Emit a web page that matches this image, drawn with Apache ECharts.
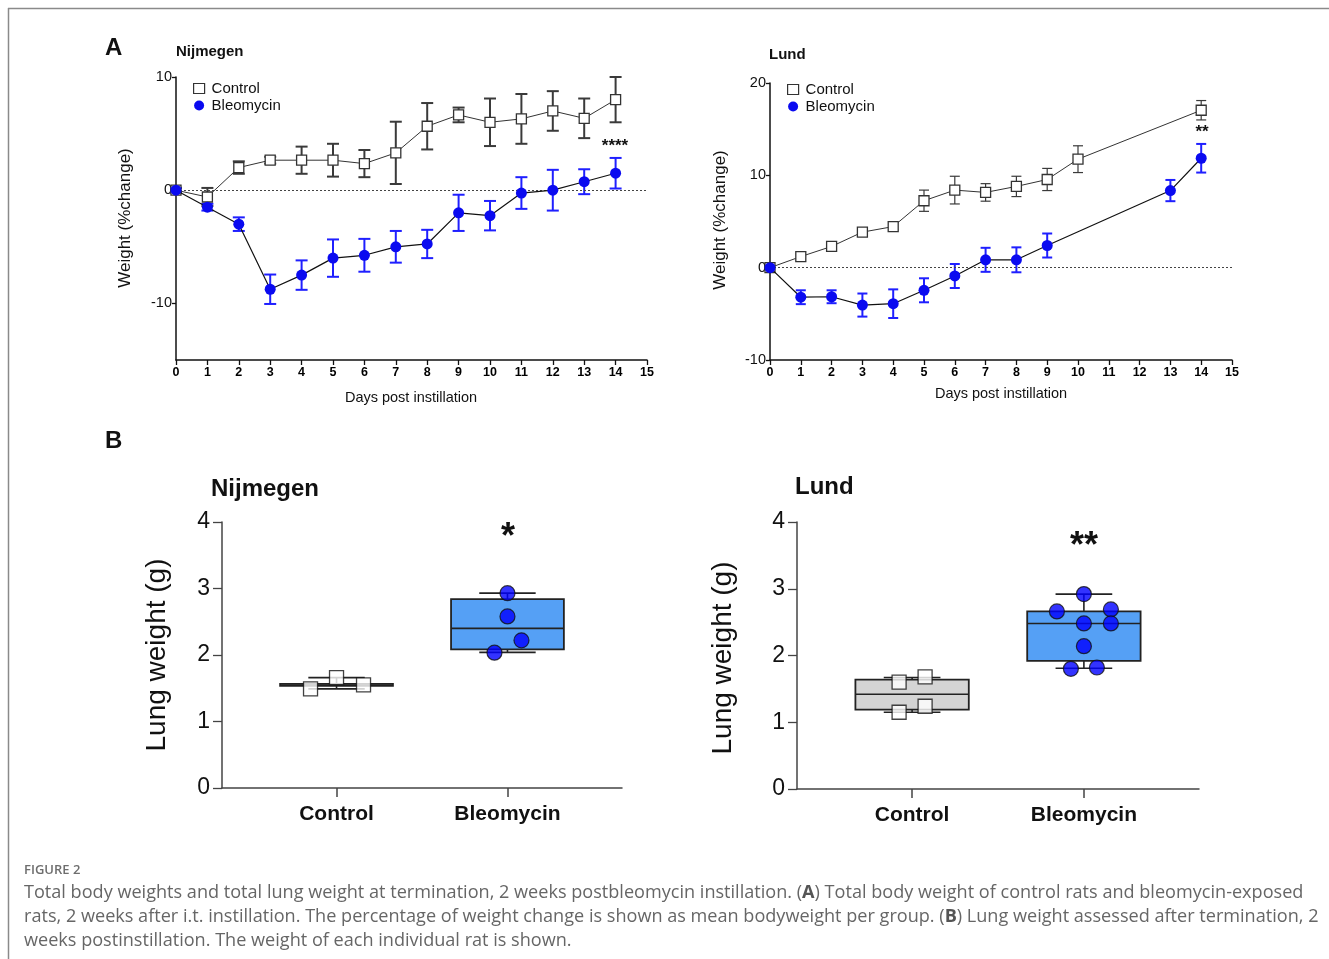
<!DOCTYPE html>
<html><head><meta charset="utf-8">
<script src="https://cdn.jsdelivr.net/npm/echarts@6/dist/echarts.min.js"></script>
<style>html,body{margin:0;padding:0;background:#fff}#c{width:1329px;height:959px}</style>
</head><body><div id="c"></div>
<script>
// ---------- DATA ----------
const days = [0,1,2,3,4,5,6,7,8,9,10,11,12,13,14];

// Panel A – Nijmegen (% weight change, mean ± error)
const nijCtrlMean = [0, -0.6, 2.0, 2.65, 2.65, 2.65, 2.35, 3.3, 5.65, 6.65, 6.0, 6.3, 7.0, 6.35, 8.0];
const nijCtrlErr  = [0.2, 0.8, 0.55, 0.3, 1.2, 1.45, 1.2, 2.75, 2.05, 0.65, 2.1, 2.2, 1.75, 1.75, 2.0];
const nijBleoMean = [0, -1.5, -3.0, -8.75, -7.5, -6.0, -5.75, -5.0, -4.75, -2.0, -2.25, -0.25, 0, 0.75, 1.5];
const nijBleoErr  = [0.2, 0.3, 0.6, 1.3, 1.3, 1.65, 1.45, 1.4, 1.25, 1.6, 1.3, 1.4, 1.8, 1.1, 1.35];

// Panel A – Lund
const lundCtrlMean = [0, 1.2, 2.3, 3.85, 4.45, 7.25, 8.4, 8.15, 8.8, 9.55, 11.75, null, null, null, 17.05];
const lundCtrlErr  = [0.2, 0.3, 0.3, 0.35, 0.3, 1.15, 1.5, 0.95, 1.1, 1.2, 1.45, null, null, null, 1.05];
const lundBleoMean = [0, -3.2, -3.15, -4.05, -3.9, -2.45, -0.9, 0.85, 0.85, 2.4, null, null, null, 8.35, 11.85];
const lundBleoErr  = [0.2, 0.75, 0.7, 1.25, 1.55, 1.3, 1.3, 1.3, 1.35, 1.3, null, null, null, 1.15, 1.55];

// Panel B – lung weight (g)
const groups = ['Control', 'Bleomycin'];
// [min, Q1, median, Q3, max]
const nijBox  = [[1.49, 1.535, 1.55, 1.565, 1.66], [2.04, 2.085, 2.40, 2.84, 2.93]];
const lundBox = [[1.15, 1.19, 1.42, 1.64, 1.67], [1.81, 1.92, 2.48, 2.66, 2.92]];
const nijCtrlPts  = [1.49, 1.66, 1.55];
const nijBleoPts  = [2.93, 2.58, 2.22, 2.035];
const lundCtrlPts = [1.60, 1.68, 1.15, 1.24];
const lundBleoPts = [2.92, 2.66, 2.69, 2.48, 2.48, 2.14, 1.80, 1.82];

// ---------- LAYOUT / STYLE (not data) ----------
const nijCtrlJit  = [-26, 0, 27];
const nijBleoJit  = [0, 0, 14, -13];
const lundCtrlJit = [-13, 13, -13, 13];
const lundBleoJit = [0, -27, 27, 0, 27, 0, -13, 13];
const nijBoxFill  = ['#ffffff', '#55a0f5'];
const lundBoxFill = ['#d4d4d4', '#55a0f5'];

const FONT = '"Liberation Sans", Arial, sans-serif';
const BLUE = '#0a0af0';
const DARK = '#333333';

function pairs(means) {
  const out = [];
  days.forEach((d, i) => { if (means[i] !== null) out.push([d, means[i]]); });
  return out;
}
function errData(means, errs) {
  const out = [];
  days.forEach((d, i) => { if (means[i] !== null) out.push([d, means[i] - errs[i], means[i] + errs[i]]); });
  return out;
}
function errSeries(name, gi, means, errs, color, width, cap) {
  return {
    type: 'custom', name: name, xAxisIndex: gi, yAxisIndex: gi, z: 2, silent: true,
    data: errData(means, errs), encode: { x: 0, y: [1, 2] },
    renderItem: function (params, api) {
      const x = api.value(0);
      const lo = api.coord([x, api.value(1)]);
      const hi = api.coord([x, api.value(2)]);
      const st = { stroke: color, lineWidth: width };
      return { type: 'group', children: [
        { type: 'line', shape: { x1: lo[0], y1: lo[1], x2: hi[0], y2: hi[1] }, style: st },
        { type: 'line', shape: { x1: hi[0] - cap, y1: hi[1], x2: hi[0] + cap, y2: hi[1] }, style: st },
        { type: 'line', shape: { x1: lo[0] - cap, y1: lo[1], x2: lo[0] + cap, y2: lo[1] }, style: st }
      ]};
    }
  };
}
function ctrlLine(gi, means, withZero) {
  const s = {
    type: 'line', name: 'Control', xAxisIndex: gi, yAxisIndex: gi, z: 5,
    data: pairs(means), symbol: 'rect', symbolSize: 10,
    itemStyle: { color: '#ffffff', borderColor: DARK, borderWidth: 1.3 },
    lineStyle: { color: DARK, width: 1 }
  };
  if (withZero) {
    s.markLine = { silent: true, symbol: 'none', label: { show: false },
      lineStyle: { type: [2, 2], color: '#444', width: 1 }, data: [{ yAxis: 0 }] };
  }
  return s;
}
function bleoLine(gi, means) {
  return {
    type: 'line', name: 'Bleomycin', xAxisIndex: gi, yAxisIndex: gi, z: 6,
    data: pairs(means), symbol: 'circle', symbolSize: 11,
    itemStyle: { color: BLUE, borderColor: BLUE, borderWidth: 0 },
    lineStyle: { color: '#111', width: 1.2 }
  };
}
function boxSeries(gi, box, fills) {
  return {
    type: 'custom', xAxisIndex: gi, yAxisIndex: gi, z: 3, silent: true,
    data: box.map((b, i) => [i].concat(b)), encode: { x: 0, y: [1, 2, 3, 4, 5] },
    renderItem: function (params, api) {
      const i = api.value(0);
      const cx = api.coord([i, 0])[0];
      const bw = api.size([0.66, 0])[0];
      const cw = api.size([0.33, 0])[0];
      const y = [1, 2, 3, 4, 5].map(k => api.coord([i, api.value(k)])[1]);
      const st = { stroke: '#222', lineWidth: 1.6 };
      return { type: 'group', children: [
        { type: 'line', shape: { x1: cx, y1: y[0], x2: cx, y2: y[1] }, style: st },
        { type: 'line', shape: { x1: cx, y1: y[3], x2: cx, y2: y[4] }, style: st },
        { type: 'line', shape: { x1: cx - cw / 2, y1: y[0], x2: cx + cw / 2, y2: y[0] }, style: st },
        { type: 'line', shape: { x1: cx - cw / 2, y1: y[4], x2: cx + cw / 2, y2: y[4] }, style: st },
        { type: 'rect', shape: { x: cx - bw / 2, y: y[3], width: bw, height: y[1] - y[3] },
          style: { fill: fills[params.dataIndex], stroke: '#222', lineWidth: 1.8 } },
        { type: 'line', shape: { x1: cx - bw / 2, y1: y[2], x2: cx + bw / 2, y2: y[2] }, style: st }
      ]};
    }
  };
}
function ptsSeries(gi, gIdx, vals, jit, sym) {
  const isRect = sym === 'rect';
  return {
    type: 'scatter', xAxisIndex: gi, yAxisIndex: gi, z: 8, silent: true,
    symbol: sym, symbolSize: isRect ? 14 : 15,
    itemStyle: isRect ? { color: '#ffffff', borderColor: '#111', borderWidth: 1.3 }
                      : { color: '#0000ff', borderColor: '#111', borderWidth: 1.2 },
    data: vals.map((v, k) => ({ value: [gIdx, v], symbolOffset: [jit[k], 0] }))
  };
}

const dayAxisLabel = { fontFamily: FONT, fontSize: 12.5, fontWeight: 'bold', color: '#000', margin: 6 };
function dayAxis(gi) {
  return {
    type: 'value', gridIndex: gi, min: 0, max: 15, interval: 1,
    axisLine: { onZero: false, lineStyle: { color: '#111', width: 1.5 } },
    axisTick: { show: true, length: 5, lineStyle: { color: '#111', width: 1.3 } },
    axisLabel: dayAxisLabel, splitLine: { show: false }
  };
}
function groupAxis(gi) {
  return {
    type: 'value', gridIndex: gi, min: -0.67, max: 1.67,
    axisLine: { onZero: false, lineStyle: { color: '#444', width: 1.5 } },
    axisTick: { show: true, length: 9, customValues: [0, 1], lineStyle: { color: '#444', width: 1.5 } },
    axisLabel: { customValues: [0, 1], formatter: v => groups[Math.round(v)],
      fontFamily: FONT, fontSize: 21, fontWeight: 'bold', color: '#111', margin: 16 },
    splitLine: { show: false }
  };
}
function lungYAxis(gi) {
  return {
    type: 'value', gridIndex: gi, min: 0, max: 4, interval: 1,
    axisLine: { show: true, onZero: false, lineStyle: { color: '#444', width: 1.5 } },
    axisTick: { show: true, length: 9, lineStyle: { color: '#444', width: 1.3 } },
    axisLabel: { fontFamily: FONT, fontSize: 23, color: '#111', margin: 12 },
    splitLine: { show: false }
  };
}

function txt(x, y, text, size, weight, extra) {
  return Object.assign({ type: 'text', x: x, y: y, silent: true,
    style: Object.assign({ text: text, font: (weight || 'normal') + ' ' + size + 'px ' + FONT, fill: '#111' }, extra || {}) });
}
function vtxt(x, y, text, size) {
  return { type: 'text', x: x, y: y, rotation: Math.PI / 2, silent: true,
    style: { text: text, font: 'normal ' + size + 'px ' + FONT, fill: '#111', align: 'center', verticalAlign: 'middle' } };
}

const CAP_FONT = '"Open Sans", "Noto Sans", sans-serif';
const capLines = [
  'Total body weights and total lung weight at termination, 2 weeks postbleomycin instillation. ({b|A}) Total body weight of control rats and bleomycin-exposed',
  'rats, 2 weeks after i.t. instillation. The percentage of weight change is shown as mean bodyweight per group. ({b|B}) Lung weight assessed after termination, 2',
  'weeks postinstillation. The weight of each individual rat is shown.'
];

const chart = echarts.init(document.getElementById('c'));
const option = {
  animation: false,
  backgroundColor: '#ffffff',
  grid: [
    { left: 176, top: 77, width: 471, height: 283 },
    { left: 770, top: 83, width: 462, height: 277 },
    { left: 222, top: 522, width: 400, height: 266 },
    { left: 797, top: 522, width: 402, height: 267 }
  ],
  xAxis: [dayAxis(0), dayAxis(1), groupAxis(2), groupAxis(3)],
  yAxis: [
    { type: 'value', gridIndex: 0, min: -15, max: 10,
      axisLine: { show: true, onZero: false, lineStyle: { color: '#111', width: 1.5 } },
      axisTick: { show: true, length: 4, customValues: [-10, 0, 10], lineStyle: { color: '#111', width: 1.3 } },
      axisLabel: { customValues: [-10, 0, 10], fontFamily: FONT, fontSize: 14.5, color: '#111', margin: 4 },
      splitLine: { show: false } },
    { type: 'value', gridIndex: 1, min: -10, max: 20, interval: 10,
      axisLine: { show: true, onZero: false, lineStyle: { color: '#111', width: 1.5 } },
      axisTick: { show: true, length: 4, lineStyle: { color: '#111', width: 1.3 } },
      axisLabel: { fontFamily: FONT, fontSize: 14.5, color: '#111', margin: 4 },
      splitLine: { show: false } },
    lungYAxis(2), lungYAxis(3)
  ],
  legend: [
    { left: 188, top: 76, orient: 'vertical', itemGap: 2, itemWidth: 11, itemHeight: 10,
      textStyle: { fontFamily: FONT, fontSize: 15, color: '#111', padding: [0, 0, 0, 2] },
      data: [
        { name: 'Control', icon: 'rect', itemStyle: { color: '#fff', borderColor: DARK, borderWidth: 1.2 } },
        { name: 'Bleomycin', icon: 'circle', itemStyle: { color: BLUE } }
      ], selectedMode: false },
    { left: 782, top: 77, orient: 'vertical', itemGap: 2, itemWidth: 11, itemHeight: 10,
      textStyle: { fontFamily: FONT, fontSize: 15, color: '#111', padding: [0, 0, 0, 2] },
      data: [
        { name: 'Control', icon: 'rect', itemStyle: { color: '#fff', borderColor: DARK, borderWidth: 1.2 } },
        { name: 'Bleomycin', icon: 'circle', itemStyle: { color: BLUE } }
      ], selectedMode: false }
  ],
  series: [
    errSeries('nijCtrlErr', 0, nijCtrlMean, nijCtrlErr, '#3a3a3a', 2, 6),
    errSeries('nijBleoErr', 0, nijBleoMean, nijBleoErr, '#1f1fff', 2, 6),
    ctrlLine(0, nijCtrlMean, true),
    bleoLine(0, nijBleoMean),
    errSeries('lundCtrlErr', 1, lundCtrlMean, lundCtrlErr, '#3a3a3a', 1.2, 5),
    errSeries('lundBleoErr', 1, lundBleoMean, lundBleoErr, '#1f1fff', 2, 5),
    ctrlLine(1, lundCtrlMean, true),
    bleoLine(1, lundBleoMean),
    boxSeries(2, nijBox, nijBoxFill),
    ptsSeries(2, 0, nijCtrlPts, nijCtrlJit, 'rect'),
    ptsSeries(2, 1, nijBleoPts, nijBleoJit, 'circle'),
    boxSeries(3, lundBox, lundBoxFill),
    ptsSeries(3, 0, lundCtrlPts, lundCtrlJit, 'rect'),
    ptsSeries(3, 1, lundBleoPts, lundBleoJit, 'circle')
  ],
  graphic: [
    { type: 'line', shape: { x1: 8, y1: 8.5, x2: 1329, y2: 8.5 }, style: { stroke: '#8a8a8a', lineWidth: 1.5 }, silent: true },
    { type: 'line', shape: { x1: 8.5, y1: 8, x2: 8.5, y2: 959 }, style: { stroke: '#8a8a8a', lineWidth: 1.5 }, silent: true },
    txt(105, 36, 'A', 24, 'bold'),
    txt(105, 429, 'B', 24, 'bold'),
    txt(176, 44, 'Nijmegen', 15, 'bold'),
    txt(769, 47, 'Lund', 15, 'bold'),
    vtxt(125, 218, 'Weight (%change)', 17),
    vtxt(720, 220, 'Weight (%change)', 17),
    txt(411, 398, 'Days post instillation', 14.5, 'normal', { align: 'center', verticalAlign: 'middle' }),
    txt(1001, 394, 'Days post instillation', 14.5, 'normal', { align: 'center', verticalAlign: 'middle' }),
    txt(615, 146, '****', 17, 'bold', { align: 'center', verticalAlign: 'middle' }),
    txt(1202, 132, '**', 17, 'bold', { align: 'center', verticalAlign: 'middle' }),
    txt(211, 477, 'Nijmegen', 24, 'bold'),
    txt(795, 475, 'Lund', 24, 'bold'),
    vtxt(157, 655, 'Lung weight (g)', 28),
    vtxt(723, 658, 'Lung weight (g)', 28),
    txt(508, 538, '*', 36, 'bold', { align: 'center', verticalAlign: 'middle' }),
    txt(1084, 547, '**', 36, 'bold', { align: 'center', verticalAlign: 'middle' }),
    { type: 'text', x: 24, y: 864, silent: true,
      style: { text: 'FIGURE 2', font: '600 13px ' + CAP_FONT, fill: '#6e6e6e' } },
    ...capLines.map((t, i) => ({ type: 'text', x: 24, y: 884 + i * 24, silent: true,
      style: { text: t, font: 'normal 18.1px ' + CAP_FONT, fill: '#666',
        rich: { b: { font: 'bold 18.1px ' + CAP_FONT, fill: '#555' } } } }))
  ]
};
chart.setOption(option);
</script>
</body></html>
